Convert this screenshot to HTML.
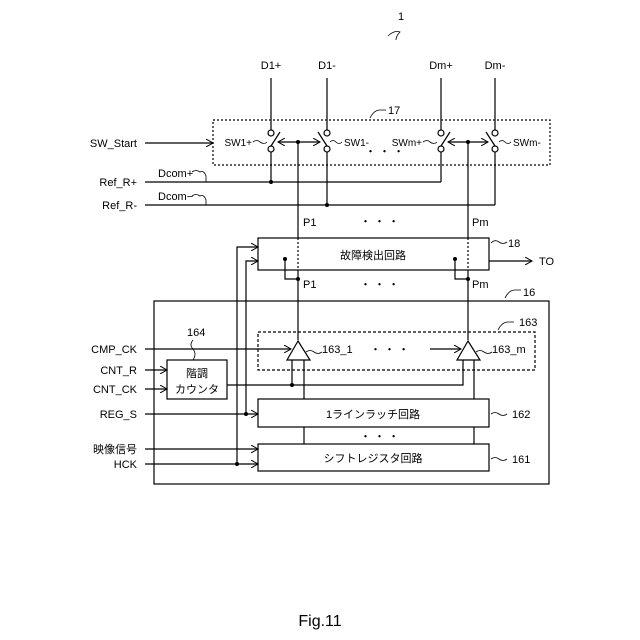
<!DOCTYPE html><html><head><style>body{margin:0;background:#fff}svg{display:block}text{font-family:"Liberation Sans","Noto Sans CJK JP",sans-serif;font-size:11px;fill:#000}</style></head><body>
<svg width="640" height="640" viewBox="0 0 640 640" xmlns="http://www.w3.org/2000/svg">
<defs><marker id="a" markerWidth="8" markerHeight="8" refX="7" refY="4" orient="auto-start-reverse" markerUnits="userSpaceOnUse"><path d="M0,0 L7,4 L0,8" fill="none" stroke="#000" stroke-width="1"/></marker></defs>
<g stroke="#000" stroke-width="1.2" fill="none">
<path d="M388,36 q6,-6 12,-4 q-4,4 -4,8" stroke-width="0.8"/>
<line x1="271" y1="78" x2="271" y2="130"/><line x1="327" y1="78" x2="327" y2="130"/><line x1="441" y1="78" x2="441" y2="130"/><line x1="495" y1="78" x2="495" y2="130"/>
<rect x="213" y="120" width="337" height="45" stroke-dasharray="2,2"/>
<path d="M370,118 q4,-8 10,-8 l6,0" stroke-width="0.8"/>
<g>
<circle cx="271" cy="133" r="3"/><circle cx="271" cy="149" r="3"/><line x1="271" y1="146" x2="280" y2="132"/>
<circle cx="327" cy="133" r="3"/><circle cx="327" cy="149" r="3"/><line x1="327" y1="146" x2="318" y2="132"/>
<circle cx="441" cy="133" r="3"/><circle cx="441" cy="149" r="3"/><line x1="441" y1="146" x2="450" y2="132"/>
<circle cx="495" cy="133" r="3"/><circle cx="495" cy="149" r="3"/><line x1="495" y1="146" x2="486" y2="132"/>
</g>
<line x1="278" y1="142" x2="320" y2="142" marker-start="url(#a)" marker-end="url(#a)"/>
<line x1="448" y1="142" x2="488" y2="142" marker-start="url(#a)" marker-end="url(#a)"/>
<path d="M253,142 q4,-3 7,0 q4,3 7,0" stroke-width="0.8"/>
<path d="M330,142 q3,-3 6,0 q3,3 6,0" stroke-width="0.8"/>
<path d="M423,142 q4,-3 7,0 q4,3 7,0" stroke-width="0.8"/>
<path d="M499,142 q3,-3 6,0 q3,3 6,0" stroke-width="0.8"/>
<line x1="271" y1="152" x2="271" y2="182"/><line x1="327" y1="152" x2="327" y2="205"/><line x1="441" y1="152" x2="441" y2="182"/><line x1="495" y1="152" x2="495" y2="205"/>
<line x1="145" y1="143" x2="213" y2="143" marker-end="url(#a)"/>
<line x1="145" y1="182" x2="441" y2="182"/>
<line x1="145" y1="205" x2="495" y2="205"/>
<path d="M192,172 q4,-3 8,0 q4,-2 6,4 l0,6" stroke-width="0.8"/>
<path d="M192,196 q4,-3 8,0 q4,-2 6,4 l0,5" stroke-width="0.8"/>
<line x1="298" y1="142" x2="298" y2="238"/><line x1="468" y1="142" x2="468" y2="238"/>
<rect x="258" y="238" width="231" height="32"/>
<line x1="298" y1="238" x2="298" y2="270" stroke-dasharray="2,2"/><line x1="468" y1="238" x2="468" y2="270" stroke-dasharray="2,2"/>
<line x1="489" y1="261" x2="532" y2="261" marker-end="url(#a)"/>
<path d="M491,243 q4,-4 8,-1 q4,3 8,0" stroke-width="0.8"/>
<path d="M285,259 L285,279 L298,279"/><path d="M455,259 L455,279 L468,279"/>
<line x1="298" y1="270" x2="298" y2="340"/><line x1="468" y1="270" x2="468" y2="340"/>
<path d="M237,464 L237,247 L258,247" marker-end="url(#a)"/>
<path d="M246,414 L246,261 L258,261" marker-end="url(#a)"/>
<rect x="154" y="301" width="395" height="183"/>
<path d="M505,298 q4,-8 10,-8 l6,0" stroke-width="0.8"/>
<rect x="258" y="332" width="277" height="38" stroke-dasharray="3,2"/>
<path d="M498,330 q4,-8 10,-8 l6,0" stroke-width="0.8"/>
<path d="M298,341 L310,360 L287,360 Z" fill="#fff"/>
<path d="M468,341 L480,360 L457,360 Z" fill="#fff"/>
<path d="M306,352 q4,-3 8,0 q4,3 8,0" stroke-width="0.8"/>
<path d="M476,352 q4,-3 8,0 q4,3 8,0" stroke-width="0.8"/>
<line x1="145" y1="349" x2="291" y2="349" marker-end="url(#a)"/>
<line x1="430" y1="349" x2="461" y2="349" marker-end="url(#a)"/>
<rect x="167" y="360" width="60" height="39"/>
<path d="M193,340 q-4,5 0,9 q4,5 0,11" stroke-width="0.8"/>
<line x1="145" y1="370" x2="167" y2="370" marker-end="url(#a)"/>
<line x1="145" y1="389" x2="167" y2="389" marker-end="url(#a)"/>
<path d="M227,385 L463,385 L463,360"/>
<line x1="292" y1="385" x2="292" y2="360"/>
<line x1="304" y1="360" x2="304" y2="399"/><line x1="474" y1="360" x2="474" y2="399"/>
<line x1="304" y1="427" x2="304" y2="444"/><line x1="474" y1="427" x2="474" y2="444"/>
<rect x="258" y="399" width="231" height="28"/>
<rect x="258" y="444" width="231" height="27"/>
<line x1="145" y1="414" x2="258" y2="414" marker-end="url(#a)"/>
<line x1="145" y1="449" x2="258" y2="449" marker-end="url(#a)"/>
<line x1="145" y1="464" x2="258" y2="464" marker-end="url(#a)"/>
<path d="M491,414 q4,-3 8,0 q4,3 8,0" stroke-width="0.8"/>
<path d="M491,459 q4,-3 8,0 q4,3 8,0" stroke-width="0.8"/>
</g>
<g fill="#000">
<circle cx="298" cy="142" r="2"/><circle cx="468" cy="142" r="2"/><circle cx="271" cy="182" r="2"/><circle cx="327" cy="205" r="2"/>
<circle cx="285" cy="259" r="2"/><circle cx="455" cy="259" r="2"/><circle cx="298" cy="279" r="2"/><circle cx="468" cy="279" r="2"/>
<circle cx="292" cy="385" r="2"/><circle cx="246" cy="414" r="2"/><circle cx="237" cy="464" r="2"/>
</g>
<text x="398" y="20">1</text>
<text x="271" y="69" text-anchor="middle">D1+</text><text x="327" y="69" text-anchor="middle">D1-</text><text x="441" y="69" text-anchor="middle">Dm+</text><text x="495" y="69" text-anchor="middle">Dm-</text>
<text x="388" y="114">17</text>
<text x="252" y="146" text-anchor="end" style="font-size:10px">SW1+</text><text x="344" y="146" style="font-size:10px">SW1-</text><text x="422" y="146" text-anchor="end" style="font-size:10px">SWm+</text><text x="513" y="146" style="font-size:10px">SWm-</text>
<text x="365" y="155">・ ・ ・</text>
<text x="137" y="147" text-anchor="end">SW_Start</text>
<text x="158" y="177">Dcom+</text><text x="158" y="200">Dcom−</text>
<text x="137" y="186" text-anchor="end">Ref_R+</text><text x="137" y="209" text-anchor="end">Ref_R-</text>
<text x="303" y="226">P1</text><text x="360" y="225">・ ・ ・</text><text x="472" y="226">Pm</text>
<text x="373" y="259" text-anchor="middle">故障検出回路</text>
<text x="508" y="247">18</text><text x="539" y="265">TO</text>
<text x="303" y="288">P1</text><text x="360" y="288">・ ・ ・</text><text x="472" y="288">Pm</text>
<text x="523" y="296">16</text><text x="519" y="326">163</text>
<text x="187" y="336">164</text>
<text x="322" y="353">163_1</text><text x="370" y="353">・ ・ ・</text><text x="492" y="353">163_m</text>
<text x="197" y="377" text-anchor="middle">階調</text><text x="197" y="393" text-anchor="middle">カウンタ</text>
<text x="137" y="353" text-anchor="end">CMP_CK</text><text x="137" y="374" text-anchor="end">CNT_R</text><text x="137" y="393" text-anchor="end">CNT_CK</text>
<text x="137" y="418" text-anchor="end">REG_S</text><text x="137" y="453" text-anchor="end">映像信号</text><text x="137" y="468" text-anchor="end">HCK</text>
<text x="373" y="418" text-anchor="middle">1ラインラッチ回路</text>
<text x="360" y="440">・ ・ ・</text>
<text x="373" y="462" text-anchor="middle">シフトレジスタ回路</text>
<text x="512" y="418">162</text><text x="512" y="463">161</text>
<text x="320" y="626" text-anchor="middle" style="font-size:16px">Fig.11</text>
</svg></body></html>
